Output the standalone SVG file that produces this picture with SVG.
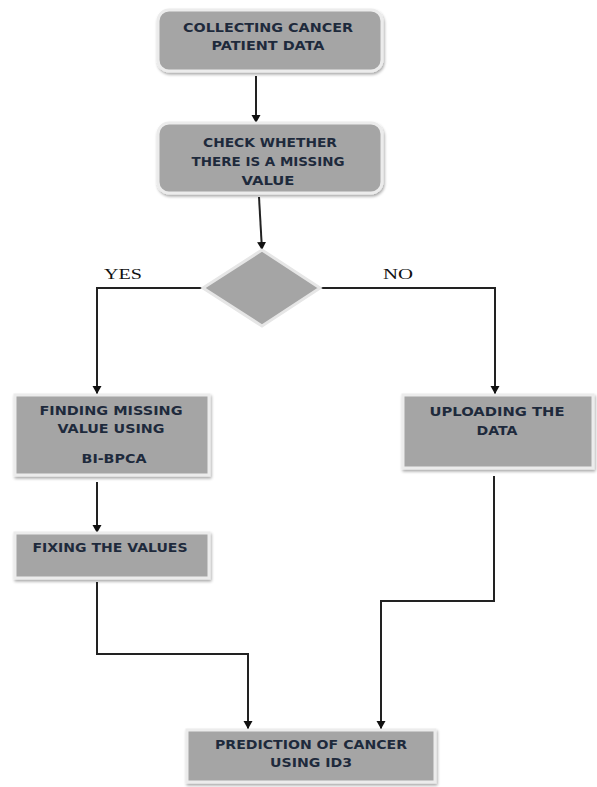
<svg xmlns="http://www.w3.org/2000/svg" width="597" height="787" viewBox="0 0 597 787">
<defs>
<marker id="arr" markerWidth="10" markerHeight="10" refX="8" refY="5" orient="auto" markerUnits="userSpaceOnUse" viewBox="0 0 10 10">
<path d="M0,0.5 L8,5 L0,9.5 Z" fill="#111"/>
</marker>
<filter id="sh" x="-10%" y="-10%" width="130%" height="140%">
<feGaussianBlur in="SourceAlpha" stdDeviation="1.5"/>
<feOffset dx="1" dy="2" result="b"/>
<feComponentTransfer><feFuncA type="linear" slope="0.35"/></feComponentTransfer>
<feMerge><feMergeNode/><feMergeNode in="SourceGraphic"/></feMerge>
</filter>
</defs>
<style>
.box{fill:#a5a5a5;stroke:#ececec;stroke-width:3;filter:url(#sh)}
.t{font-family:"DejaVu Sans","Liberation Sans",sans-serif;font-weight:bold;font-size:11.5px;fill:#1e2a3c;text-anchor:middle}
.lbl{font-family:"Liberation Serif","Times New Roman",serif;font-size:15px;fill:#111}
.c{fill:none;stroke:#222;stroke-width:2}
</style>
<rect width="597" height="787" fill="#fff"/>
<g id="connectors">
<path class="c" d="M256,76 L256,123" marker-end="url(#arr)"/>
<path class="c" d="M259,197 L262,250" marker-end="url(#arr)"/>
<path class="c" d="M203,288 L97,288 L97,394" marker-end="url(#arr)"/>
<path class="c" d="M320,288 L495,288 L495,394" marker-end="url(#arr)"/>
<path class="c" d="M97,482 L97,533" marker-end="url(#arr)"/>
<path class="c" d="M97,582 L97,654 L248,654 L248,729" marker-end="url(#arr)"/>
<path class="c" d="M494,476 L494,601 L381,601 L381,729" marker-end="url(#arr)"/>
</g>
<g id="n1">
<rect class="box" x="158" y="10" width="224" height="61" rx="11"/>
<text class="t" x="268" y="31.5" textLength="170" lengthAdjust="spacingAndGlyphs">COLLECTING CANCER</text>
<text class="t" x="268" y="49.5" textLength="113" lengthAdjust="spacingAndGlyphs">PATIENT DATA</text>
</g>
<g id="n2">
<rect class="box" x="158" y="123" width="224" height="70" rx="11"/>
<text class="t" x="270" y="146.5" textLength="134" lengthAdjust="spacingAndGlyphs">CHECK WHETHER</text>
<text class="t" x="268" y="166" textLength="153" lengthAdjust="spacingAndGlyphs">THERE IS A MISSING</text>
<text class="t" x="268" y="184.5" textLength="53" lengthAdjust="spacingAndGlyphs">VALUE</text>
</g>
<g id="decision">
<polygon points="262,250 320,288 262,326 203,288" fill="#a5a5a5" stroke="#e6e6e6" stroke-width="3"/>
<text class="lbl" x="104" y="279" textLength="38" lengthAdjust="spacingAndGlyphs">YES</text>
<text class="lbl" x="383" y="279" textLength="30" lengthAdjust="spacingAndGlyphs">NO</text>
</g>
<g id="n3">
<rect class="box" x="15" y="395" width="194" height="80"/>
<text class="t" x="111" y="414.5" textLength="143" lengthAdjust="spacingAndGlyphs">FINDING MISSING</text>
<text class="t" x="111" y="432.5" textLength="107" lengthAdjust="spacingAndGlyphs">VALUE USING</text>
<text class="t" x="114" y="462.5" textLength="65" lengthAdjust="spacingAndGlyphs">BI-BPCA</text>
</g>
<g id="n4">
<rect class="box" x="15" y="533" width="194" height="45"/>
<text class="t" x="110" y="551.5" textLength="155" lengthAdjust="spacingAndGlyphs">FIXING THE VALUES</text>
</g>
<g id="n5">
<rect class="box" x="403" y="395" width="190" height="73"/>
<text class="t" x="497" y="415.5" textLength="135" lengthAdjust="spacingAndGlyphs">UPLOADING THE</text>
<text class="t" x="497" y="434.5" textLength="41" lengthAdjust="spacingAndGlyphs">DATA</text>
</g>
<g id="n6">
<rect class="box" x="187" y="730" width="248" height="52"/>
<text class="t" x="311" y="748.5" textLength="192" lengthAdjust="spacingAndGlyphs">PREDICTION OF CANCER</text>
<text class="t" x="311" y="766.5" textLength="82" lengthAdjust="spacingAndGlyphs">USING ID3</text>
</g>
</svg>
